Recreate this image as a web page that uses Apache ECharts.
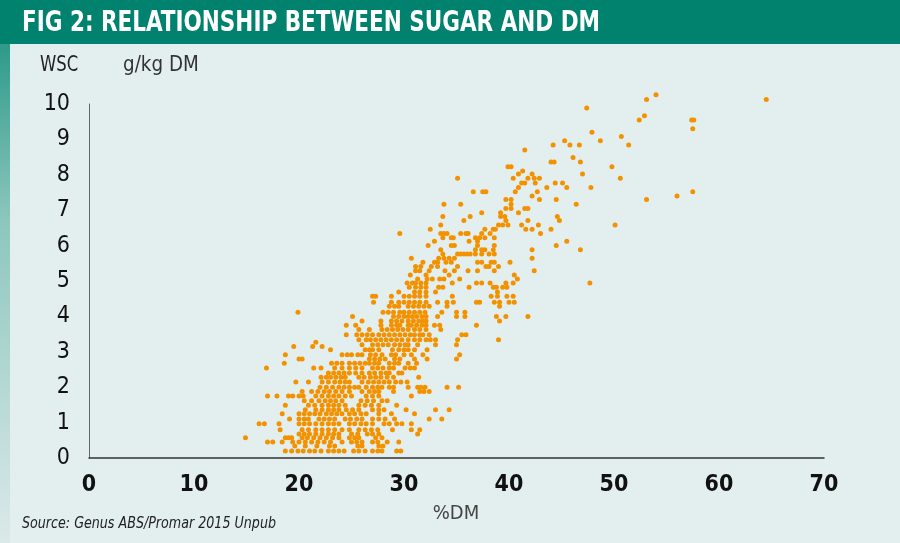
<!DOCTYPE html>
<html>
<head>
<meta charset="utf-8">
<script src="https://cdn.jsdelivr.net/npm/echarts@6/dist/echarts.min.js"></script>
<style>
html,body{margin:0;padding:0;background:#e3efef;}
#chart{width:900px;height:543px;}
</style>
</head>
<body>
<div id="chart"></div>
<script>
// ---- Data (WSC level rows and the %DM values observed at each level) ----
const titleText = 'FIG 2: RELATIONSHIP BETWEEN SUGAR AND DM';
const yUnitLabels = ['WSC', 'g/kg DM'];
const xAxisName = '%DM';
const sourceText = 'Source: Genus ABS/Promar 2015 Unpub';
const xTicks = [0, 10, 20, 30, 40, 50, 60, 70];
const yTicks = [0, 1, 2, 3, 4, 5, 6, 7, 8, 9, 10];

const wscRows = [0.20,0.34,0.45,0.57,0.68,0.80,0.97,1.10,1.25,1.36,1.49,1.62,1.75,1.88,2.00,2.15,2.28,2.40,2.54,2.68,2.80,2.92,3.06,3.15,3.20,3.27,3.34,3.48,3.63,3.75,3.87,4.00,4.12,4.29,4.40,4.57,4.69,4.82,4.94,5.06,5.17,5.29,5.41,5.53,5.64,5.76,5.88,6.00,6.12,6.22,6.34,6.46,6.58,6.71,6.82,6.93,7.05,7.17,7.30,7.40,7.52,7.64,7.77,7.90,8.02,8.11,8.23,8.36,8.49,8.70,8.84,8.96,9.08,9.20,9.30,9.55,9.67,9.89,10.13,10.26];

const dmRows = [
 [18.7,19.3,19.9,20.4,21.0,21.5,22.1,22.8,23.3,23.8,24.3,25.2,25.7,26.3,27.0,27.5,27.9,29.3,29.7],
 [19.6,20.6,21.7,22.9,23.4,25.6,26.0,27.6,28.0],
 [17.0,17.5,18.4,19.4,20.0,20.6,21.2,21.8,22.4,23.0,24.1,25.0,25.5,26.0,27.0,27.5,28.4,29.5],
 [14.9,18.7,19.0,19.3,20.3,20.8,21.4,22.0,22.6,23.2,23.8,24.8,25.3,25.7,27.3,27.9],
 [20.0,20.5,21.0,21.6,22.2,22.8,23.3,23.8,25.0,25.6,26.5,27.0,27.6,31.3],
 [18.2,20.3,20.9,21.6,22.2,22.8,23.4,24.1,24.8,25.7,26.3,26.9,27.5,28.9,30.7,31.5],
 [16.2,16.7,18.1,20.0,20.5,21.0,21.6,22.2,22.8,23.3,23.8,24.8,25.3,25.9,26.4,27.0,28.1,28.6,29.3,29.8,30.7],
 [19.1,20.0,20.5,20.9,21.9,22.4,22.9,23.4,24.4,24.9,25.5,26.0,27.0,27.6,28.2,29.1,32.4,33.6],
 [18.4,20.0,20.5,21.0,21.5,22.0,22.6,23.1,23.6,24.1,24.8,25.3,25.9,26.4,27.6,28.8,31.0],
 [20.6,21.6,22.2,22.8,23.3,23.8,24.5,25.1,25.7,27.0,27.6,28.1,30.2,33.0,34.3],
 [18.7,20.9,21.5,22.2,22.8,23.3,23.8,24.4,25.7,26.3,26.9,27.6,29.3],
 [20.5,21.2,21.9,22.5,23.0,23.5,24.1,25.9,26.5,27.1,27.9,28.4],
 [17.0,17.9,19.0,19.4,20.0,20.4,21.6,22.2,22.8,23.3,23.8,24.4,25.0,26.4,27.0,27.6,30.7],
 [20.3,21.2,21.8,22.4,22.9,23.5,24.1,24.8,26.0,26.7,27.2,27.6,29.0,31.5,31.9,32.4],
 [22.0,22.6,23.2,23.8,24.3,24.8,25.3,25.7,26.4,27.0,27.5,27.9,28.6,29.0,30.4,31.3,31.6,32.0,34.1,35.2],
 [19.7,20.9,22.2,22.8,23.4,23.9,24.4,24.8,26.0,26.6,27.1,27.6,28.1,28.6,29.2,29.7,30.3],
 [22.1,22.6,23.0,23.5,24.0,24.4,25.7,26.2,26.8,27.3,27.8,28.4,29.0,31.4],
 [22.8,23.3,23.8,24.3,24.8,25.4,26.0,26.7,27.2,27.8,28.3,28.6,29.5,29.8],
 [16.9,21.4,22.1,23.4,24.1,24.8,25.4,26.0,27.0,27.5,28.0,28.6,29.0,30.1,30.6,31.0],
 [18.6,23.1,23.6,24.1,24.8,25.3,25.8,26.3,26.7,27.2,27.6,28.6,29.1,29.5,30.4,31.2],
 [20.0,20.3,26.7,27.2,27.7,28.2,29.1,29.6,31.0,32.2,35.0],
 [18.7,24.1,24.6,25.0,25.6,26.0,26.8,27.3,27.9,28.8,29.2,30.0,30.7,31.8,35.3],
 [23.0,26.3,26.7,27.0,27.6,28.9,29.5,30.0,30.4,31.0,32.2],
 [19.5,21.3,22.2],
 [26.0,27.0,27.5,28.0,28.5,29.1,29.6,30.1,30.4,31.3,33.0,35.0],
 [21.6],
 [25.7,26.4,26.8,27.3,27.8,28.3,28.8,29.3,29.8,30.4,31.0,31.5,32.1,32.5,33.0,35.1,39.0],
 [24.5,25.5,26.0,26.5,27.0,27.6,28.1,28.6,29.1,29.6,30.1,30.6,31.0,31.5,31.8,32.4,35.5,35.9],
 [25.7,26.7,27.9,28.4,28.9,29.4,29.9,30.4,31.0,31.5,32.1,33.5],
 [24.5,25.4,27.8,28.8,29.3,29.6,30.4,30.7,31.2,31.7,32.1,32.9,33.4,36.9],
 [26.0,27.8,28.8,29.3,29.8,30.4,30.9,31.4,31.8,32.1,39.1],
 [25.1,29.0,29.5,30.0,30.4,30.8,31.2,31.7,32.1,33.2,35.0,35.8,38.8,39.7,41.8],
 [19.9,28.0,28.5,29.0,29.6,30.0,30.5,31.0,31.5,32.0,33.6,35.0,35.8],
 [28.6,29.1,29.5,30.4,30.9,31.4,31.9,32.4,34.1,39.1],
 [27.1,28.8,29.5,30.0,30.5,31.0,31.5,32.1,33.2,34.1,34.7,36.9,37.2,38.6,39.1,40.0,40.5],
 [27.0,27.3,28.8,30.0,30.5,31.0,31.5,32.1,34.6,38.3,38.9,39.8,40.4],
 [29.5,31.0,31.5,32.1,33.0,38.9],
 [30.5,31.1,31.6,32.1,33.3,33.7,36.2,38.5,38.8,39.4,39.8],
 [30.3,30.8,31.1,31.6,32.1,34.6,36.9,37.4,38.2,39.7,40.4,47.7],
 [31.3,32.2,32.7,33.4,33.8,35.3,40.8],
 [30.6,32.1,34.3,40.5],
 [31.1,31.5,32.4,33.9,34.8,36.1,37.0,38.6,42.4],
 [31.1,31.6,32.6,33.2,35.1,37.8,38.1,39.0],
 [31.8,32.9,33.2,34.0,34.5,37.0,37.4,38.3,38.6,40.1],
 [30.7,33.3,33.8,34.3,34.8,42.2],
 [33.7,35.1,35.4,35.7,36.0,36.3,36.8,37.4,38.1,38.6],
 [33.5,36.8,37.4,37.7,38.5,42.2,46.8],
 [32.3,34.5,34.8,37.0,38.6,44.5],
 [32.9,36.2,37.0,45.5],
 [33.7,34.5,34.7,36.8,37.2,37.7,38.6],
 [29.6,33.5,33.8,34.1,35.4,35.9,36.1,37.4,38.2,43.0],
 [32.5,37.7,38.5,38.7,41.6,42.2,44.0],
 [33.5,39.0,39.4,39.9,41.2,42.8,50.1],
 [35.7,39.7,41.8,44.8],
 [33.7,36.3,39.2,39.6,44.6],
 [37.4,39.2,40.9],
 [39.7,40.2,41.5,41.8],
 [33.8,35.4,40.2,46.4],
 [39.7,40.2,42.9,44.5,53.1],
 [42.2,56.0],
 [36.6,37.5,37.8,40.6,42.7,57.5],
 [40.9,43.6,45.5,47.8],
 [41.2,41.5,42.5,44.4,45.1],
 [35.1,40.4,41.8,42.4,42.9,50.6],
 [40.9,42.2,47.0],
 [41.3],
 [39.9,40.2,49.8],
 [44.0,44.3,46.8],
 [46.1],
 [41.5],
 [44.2,45.8,46.7,51.4],
 [45.3,48.7],
 [50.7],
 [47.9],
 [57.5],
 [52.4,57.4,57.6],
 [52.9],
 [47.4],
 [53.1,64.5],
 [54.0]
];

// ---- Build points ----
const points = [];
wscRows.forEach((w, i) => { dmRows[i].forEach(d => points.push([d, w])); });

const NARROW = "'Liberation Sans Narrow','DejaVu Sans Condensed','Roboto Condensed','Open Sans Condensed',sans-serif";

const chart = echarts.init(document.getElementById('chart'), null, {renderer: 'canvas'});
chart.setOption({
  backgroundColor: '#e3efef',
  animation: false,
  grid: {left: 89, right: 76, top: 104, bottom: 85, containLabel: false},
  xAxis: {
    type: 'value', min: xTicks[0], max: xTicks[xTicks.length - 1], interval: 10,
    axisLine: {show: true, lineStyle: {color: '#333', width: 1.5}},
    axisTick: {show: false},
    splitLine: {show: false},
    axisLabel: {color: '#111', fontFamily: NARROW, fontWeight: 'bold', fontSize: 23, margin: 16}
  },
  yAxis: {
    type: 'value', min: yTicks[0], max: yTicks[yTicks.length - 1], interval: 1,
    axisLine: {show: true, lineStyle: {color: '#666', width: 1}},
    axisTick: {show: false},
    splitLine: {show: false},
    axisLabel: {color: '#111', fontFamily: NARROW, fontSize: 23, margin: 19}
  },
  series: [{
    type: 'scatter',
    data: points,
    symbol: 'circle',
    symbolSize: 5,
    clip: false,
    itemStyle: {color: '#f39200', opacity: 1},
    silent: true
  }],
  graphic: [
    {type: 'rect', left: 0, top: 0, shape: {width: 900, height: 44}, style: {fill: '#00826f'}, z: 10},
    {type: 'rect', left: 0, top: 44, shape: {width: 10, height: 499},
      style: {fill: new echarts.graphic.LinearGradient(0, 0, 0, 1, [
        {offset: 0, color: '#2e9a89'}, {offset: 0.35, color: '#8cc6bd'}, {offset: 1, color: '#dbe9e9'}])}, z: 10},
    {type: 'text', z: 11, x: 22, y: 24, scaleX: 0.855, style: {text: titleText, x: 0, y: 0, font: "bold 28px " + NARROW, fill: '#ffffff', textVerticalAlign: 'middle', verticalAlign: 'middle'}},
    {type: 'text', z: 11, x: 40, y: 66, scaleX: 0.87, style: {text: yUnitLabels[0], x: 0, y: 0, font: "21px " + NARROW, fill: '#222', textVerticalAlign: 'middle', verticalAlign: 'middle'}},
    {type: 'text', z: 11, x: 123, y: 66, scaleX: 0.97, style: {text: yUnitLabels[1], x: 0, y: 0, font: "21px " + NARROW, fill: '#333', textVerticalAlign: 'middle', verticalAlign: 'middle'}},
    {type: 'text', z: 11, style: {text: xAxisName, x: 456, y: 514, font: "20px " + NARROW, fill: '#444', textAlign: 'center', align: 'center', textVerticalAlign: 'middle', verticalAlign: 'middle'}},
    {type: 'text', z: 11, x: 22, y: 524, scaleX: 0.94, style: {text: sourceText, x: 0, y: 0, font: "italic 15px " + NARROW, fill: '#222', textVerticalAlign: 'middle', verticalAlign: 'middle'}}
  ]
});
</script>
</body>
</html>
